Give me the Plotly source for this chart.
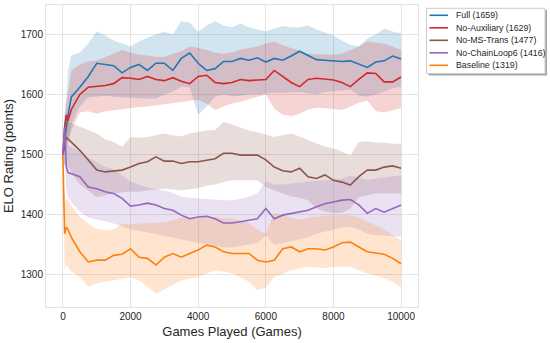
import plotly.graph_objects as go

games = [0, 50, 100, 150, 250, 500, 750, 1000, 1250, 1500, 1750, 2000, 2250, 2500, 2750,
         3000, 3250, 3500, 3750, 4000, 4250, 4500, 4750, 5000, 5250, 5500, 5750, 6000,
         6250, 6500, 6750, 7000, 7250, 7500, 7750, 8000, 8250, 8500, 8750, 9000, 9250,
         9500, 9750, 10000]

full_mean = [1500, 1520, 1545, 1565, 1596, 1612, 1630, 1652, 1650, 1648, 1636, 1645, 1650, 1640, 1652,
             1652, 1640, 1660, 1669, 1652, 1640, 1643, 1655, 1655, 1660, 1657, 1661, 1654,
             1660, 1657, 1664, 1672, 1665, 1658, 1657, 1656, 1655, 1656, 1650, 1645, 1654,
             1656, 1664, 1659]
full_upper = [1500, 1560, 1590, 1640, 1665, 1670, 1685, 1705, 1698, 1690, 1685, 1680, 1688, 1695, 1700,
              1705, 1700, 1722, 1720, 1704, 1715, 1722, 1715, 1712, 1718, 1712, 1708, 1705,
              1710, 1714, 1712, 1712, 1715, 1708, 1703, 1698, 1690, 1683, 1680, 1693, 1700,
              1710, 1705, 1702]
full_lower = [1500, 1480, 1500, 1520, 1550, 1580, 1595, 1596, 1598, 1596, 1595, 1595, 1594, 1593, 1593,
              1600, 1605, 1613, 1612, 1566, 1580, 1596, 1600, 1597, 1598, 1600, 1600, 1602,
              1603, 1603, 1604, 1604, 1602, 1600, 1604, 1605, 1607, 1608, 1598, 1596, 1600,
              1605, 1610, 1613]

noaux_mean = [1500, 1545, 1566, 1556, 1575, 1600, 1612, 1613, 1615, 1618, 1628, 1627, 1625, 1630, 1625,
              1623, 1628, 1622, 1618, 1630, 1632, 1620, 1618, 1620, 1625, 1623, 1624, 1625,
              1640, 1630, 1620, 1613, 1625, 1627, 1625, 1624, 1620, 1613, 1625, 1636, 1635,
              1621, 1621, 1629]
noaux_upper = [1500, 1570, 1590, 1600, 1640, 1650, 1655, 1657, 1662, 1668, 1674, 1670, 1666, 1665, 1663,
               1663, 1668, 1672, 1680, 1678, 1674, 1670, 1668, 1670, 1675, 1677, 1680, 1685,
               1688, 1682, 1677, 1672, 1668, 1667, 1666, 1666, 1668, 1674, 1680, 1688, 1686,
               1685, 1680, 1674]
noaux_lower = [1500, 1510, 1530, 1520, 1540, 1570, 1572, 1568, 1572, 1574, 1576, 1578, 1579, 1580, 1582,
               1584, 1586, 1588, 1590, 1591, 1585, 1574, 1580, 1585, 1588, 1592, 1596, 1600,
               1576, 1566, 1564, 1568, 1575, 1578, 1577, 1576, 1574, 1580, 1586, 1590, 1572,
               1570, 1574, 1577]

nomst_mean = [1500, 1515, 1528, 1526, 1521, 1507, 1491, 1474, 1471, 1473, 1474, 1479, 1485, 1488, 1496,
              1489, 1489, 1485, 1488, 1488, 1491, 1493, 1502, 1502, 1499, 1499, 1499, 1491,
              1479, 1473, 1471, 1477, 1463, 1460, 1466, 1457, 1454, 1449, 1463, 1474, 1474,
              1479, 1481, 1477]
nomst_upper = [1500, 1540, 1555, 1555, 1552, 1546, 1540, 1535, 1525, 1521, 1513, 1529, 1528, 1529, 1532,
               1535, 1532, 1530, 1535, 1538, 1540, 1541, 1554, 1550, 1545, 1540, 1537, 1533,
               1529, 1532, 1535, 1530, 1524, 1518, 1513, 1510, 1505, 1498, 1521, 1522, 1520,
               1520, 1518, 1518]
nomst_lower = [1500, 1480, 1490, 1480, 1470, 1450, 1440, 1429, 1432, 1435, 1437, 1438, 1438, 1440, 1441,
               1443, 1442, 1440, 1442, 1444, 1448, 1450, 1454, 1457, 1457, 1457, 1457, 1446,
               1440, 1435, 1430, 1428, 1424, 1410, 1405, 1402, 1403, 1410, 1429, 1432, 1435,
               1435, 1435, 1435]

nocl_mean = [1500, 1545, 1480, 1470, 1468, 1463, 1446, 1443, 1438, 1435, 1427, 1414, 1416, 1419, 1416,
             1410, 1407, 1399, 1393, 1396, 1397, 1393, 1386, 1386, 1388, 1391, 1393, 1410,
             1393, 1399, 1402, 1404, 1407, 1413, 1418, 1421, 1424, 1425, 1416, 1402, 1410,
             1404, 1410, 1416]
nocl_upper = [1500, 1555, 1530, 1515, 1512, 1505, 1495, 1488, 1480, 1475, 1465, 1455, 1450, 1445, 1442,
              1440, 1436, 1430, 1428, 1427, 1425, 1424, 1424, 1424, 1426, 1430, 1435, 1455,
              1450, 1450, 1452, 1454, 1455, 1456, 1457, 1458, 1460, 1465, 1462, 1458, 1460,
              1462, 1463, 1465]
nocl_lower = [1500, 1500, 1440, 1430, 1420, 1405, 1395, 1392, 1388, 1385, 1380, 1375, 1373, 1370, 1368,
              1365, 1362, 1358, 1355, 1353, 1350, 1348, 1345, 1345, 1347, 1350, 1352, 1365,
              1350, 1352, 1355, 1358, 1362, 1368, 1372, 1375, 1378, 1380, 1375, 1368, 1366,
              1365, 1364, 1363]

base_mean = [1500, 1368, 1379, 1375, 1362, 1338, 1321, 1324, 1324, 1332, 1334, 1343, 1329, 1327, 1316,
             1329, 1335, 1329, 1335, 1341, 1349, 1346, 1338, 1335, 1335, 1335, 1324, 1321,
             1324, 1343, 1346, 1338, 1343, 1343, 1341, 1346, 1353, 1354, 1346, 1338, 1336,
             1334, 1327, 1318]
base_upper = [1500, 1420, 1425, 1424, 1415, 1396, 1385, 1376, 1374, 1375, 1385, 1384, 1385, 1385, 1386,
              1387, 1390, 1396, 1394, 1393, 1395, 1396, 1394, 1393, 1390, 1386, 1375, 1368,
              1402, 1398, 1395, 1391, 1395, 1397, 1398, 1399, 1399, 1399, 1395, 1388, 1382,
              1375, 1366, 1357]
base_lower = [1500, 1310, 1315, 1313, 1305, 1296, 1280, 1285, 1288, 1290, 1293, 1296, 1290, 1280, 1268,
              1275, 1282, 1290, 1293, 1296, 1302, 1307, 1305, 1302, 1295, 1288, 1274, 1278,
              1296, 1302, 1307, 1310, 1313, 1312, 1311, 1313, 1313, 1313, 1307, 1302, 1298,
              1294, 1288, 1279]

series_names = ["Full (1659)", "No-Auxiliary (1629)", "No-MS-Trans (1477)",
                "No-ChainLoop6 (1416)", "Baseline (1319)"]
series_colors = ["#1f77b4", "#d62728", "#8c564b", "#9467bd", "#ff7f0e"]
series_mean = [full_mean, noaux_mean, nomst_mean, nocl_mean, base_mean]
series_upper = [full_upper, noaux_upper, nomst_upper, nocl_upper, base_upper]
series_lower = [full_lower, noaux_lower, nomst_lower, nocl_lower, base_lower]

x_ticks = [0, 2000, 4000, 6000, 8000, 10000]
y_ticks = [1300, 1400, 1500, 1600, 1700]


def rgba(hexc, a):
    h = hexc.lstrip("#")
    r, g, b = int(h[0:2], 16), int(h[2:4], 16), int(h[4:6], 16)
    return f"rgba({r},{g},{b},{a})"


fig = go.Figure()
for name, col, lo, up in zip(series_names, series_colors, series_lower, series_upper):
    fig.add_trace(go.Scatter(x=games, y=lo, mode="lines", line=dict(width=0, color=col),
                             showlegend=False, hoverinfo="skip"))
    fig.add_trace(go.Scatter(x=games, y=up, mode="lines", line=dict(width=0, color=col),
                             fill="tonexty", fillcolor=rgba(col, 0.2),
                             showlegend=False, hoverinfo="skip"))
for name, col, m in zip(series_names, series_colors, series_mean):
    fig.add_trace(go.Scatter(x=games, y=m, mode="lines", name=name,
                             line=dict(width=1.6, color=col), showlegend=False))

W, H = 550, 343
ML, MR, MT, MB = 46, 132, 5, 36
PW, PH = W - ML - MR, H - MT - MB


def px2x(px):
    return (px - ML) / PW


def py2y(py):
    return (H - MB - py) / PH


shapes = []
# legend shadow and box
shapes.append(dict(type="rect", xref="paper", yref="paper",
                   x0=px2x(428.5), x1=px2x(547), y0=py2y(75.5), y1=py2y(10),
                   line=dict(width=0), fillcolor="rgba(0,0,0,0.35)"))
shapes.append(dict(type="rect", xref="paper", yref="paper",
                   x0=px2x(426.5), x1=px2x(545), y0=py2y(73.5), y1=py2y(8.3),
                   line=dict(width=1, color="#cccccc"), fillcolor="white"))
annotations = []
for i, (name, col) in enumerate(zip(series_names, series_colors)):
    yy = 15.3 + i * 12.5
    shapes.append(dict(type="line", xref="paper", yref="paper",
                       x0=px2x(429.5), x1=px2x(448), y0=py2y(yy), y1=py2y(yy),
                       line=dict(color=col, width=1.6)))
    annotations.append(dict(xref="paper", yref="paper", x=px2x(453.5), y=py2y(yy),
                            text=name, showarrow=False, xanchor="left", yanchor="middle",
                            font=dict(size=8.8, color="#262626")))

fig.update_layout(
    width=W, height=H,
    margin=dict(l=ML, r=MR, t=MT, b=MB, autoexpand=False),
    paper_bgcolor="white", plot_bgcolor="white",
    font=dict(family="Liberation Sans, Arial, sans-serif", color="#262626"),
    shapes=shapes, annotations=annotations,
    showlegend=False,
)
fig.update_xaxes(range=[-500, 10500], tickvals=x_ticks, ticktext=[str(v) for v in x_ticks],
                 showgrid=True, gridcolor="#e4e4e4", gridwidth=1, automargin=False,
                 showline=True, mirror=True, linecolor="#e4e4e4", linewidth=1,
                 zeroline=False, ticks="", tickfont=dict(size=10, color="#262626"),
                 title=dict(text="Games Played (Games)", font=dict(size=13, color="#262626"),
                            standoff=5))
fig.update_yaxes(range=[1246, 1749], tickvals=y_ticks, ticktext=[str(v) for v in y_ticks],
                 showgrid=True, gridcolor="#e4e4e4", gridwidth=1, automargin=False,
                 showline=True, mirror=True, linecolor="#e4e4e4", linewidth=1,
                 zeroline=False, ticks="", tickfont=dict(size=10, color="#262626"),
                 title=dict(text="ELO Rating (points)", font=dict(size=13, color="#262626"),
                            standoff=4))

fig.write_html("out.html", config={"displayModeBar": False},
               post_script="document.body.style.margin='0';document.body.style.padding='0';")
